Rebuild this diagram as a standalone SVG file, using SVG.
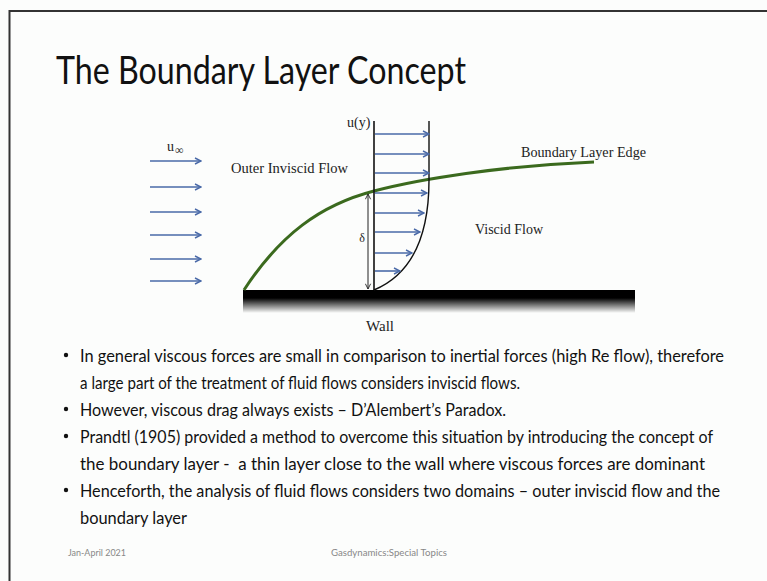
<svg xmlns="http://www.w3.org/2000/svg" width="767" height="581" viewBox="0 0 767 581">
<defs>
<marker id="bh" viewBox="0 0 8 8" refX="7" refY="4" markerWidth="8" markerHeight="8" markerUnits="userSpaceOnUse" orient="auto">
<path d="M1,1 L7,4 L1,7" fill="none" stroke="#4a6aa8" stroke-width="1.4"/>
</marker>
<marker id="kh" viewBox="0 0 8 8" refX="7" refY="4" markerWidth="7" markerHeight="7" markerUnits="userSpaceOnUse" orient="auto-start-reverse">
<path d="M1,1 L7,4 L1,7" fill="none" stroke="#222" stroke-width="1"/>
</marker>
<linearGradient id="wallfade" x1="0" y1="0" x2="0" y2="1">
<stop offset="0" stop-color="#000"/>
<stop offset="1" stop-color="#000" stop-opacity="0"/>
</linearGradient>
<style>
.serif{font-family:"Liberation Serif","Times New Roman",serif;fill:#222}
.sans{font-family:Lato,"Open Sans","Liberation Sans",sans-serif;fill:#111}
.blue{stroke:#4a6aa8;stroke-width:1.6;fill:none;marker-end:url(#bh)}
.foot{font-family:Lato,"Liberation Sans",sans-serif;font-size:9px;fill:#888}
</style>
</defs>
<rect width="767" height="581" fill="#fcfdfc"/>
<path d="M9.5,590 L9.5,11 L780,11" fill="none" stroke="#333" stroke-width="2"/>

<g id="title"><text class="sans" x="56" y="84" font-size="38" textLength="410" lengthAdjust="spacingAndGlyphs">The Boundary Layer Concept</text></g>

<g id="wall">
<rect x="243" y="290" width="392" height="8" fill="#000"/>
<rect x="243" y="298" width="392" height="15" fill="url(#wallfade)"/>
<text class="serif" x="366" y="331" font-size="14" textLength="28" lengthAdjust="spacingAndGlyphs">Wall</text>
</g>

<g id="boundary-edge">
<path d="M244,290 C280,235 320,205 374,191 C420,179 500,166 594,162" fill="none" stroke="#3b6a1e" stroke-width="3"/>
<text class="serif" x="521" y="157" font-size="14" textLength="125" lengthAdjust="spacingAndGlyphs">Boundary Layer Edge</text>
</g>

<g id="labels">
<text class="serif" x="231" y="173" font-size="14" textLength="117" lengthAdjust="spacingAndGlyphs">Outer Inviscid Flow</text>
<text class="serif" x="475" y="234" font-size="14" textLength="68" lengthAdjust="spacingAndGlyphs">Viscid Flow</text>
<text class="serif" x="347" y="127" font-size="14">u(y)</text>
<text class="serif" x="167" y="151" font-size="14">u</text>
<text class="serif" x="175" y="154" font-size="12">∞</text>
<text class="serif" x="362" y="242" font-size="12" text-anchor="middle">δ</text>
</g>

<g id="profile">
<line x1="374" y1="121" x2="374" y2="290" stroke="#111" stroke-width="1.6"/>
<path d="M429,121 L429,180 C429,240 410,275 374,290" fill="none" stroke="#111" stroke-width="1.4"/>
</g>

<g id="connectors">
<line class="blue" x1="150" y1="161" x2="201" y2="161"/>
<line class="blue" x1="150" y1="187" x2="201" y2="187"/>
<line class="blue" x1="150" y1="212" x2="201" y2="212"/>
<line class="blue" x1="150" y1="235" x2="201" y2="235"/>
<line class="blue" x1="150" y1="259" x2="201" y2="259"/>
<line class="blue" x1="150" y1="281" x2="201" y2="281"/>
<line class="blue" x1="375" y1="134" x2="429" y2="134"/>
<line class="blue" x1="375" y1="154" x2="429" y2="154"/>
<line class="blue" x1="375" y1="173" x2="429" y2="173"/>
<line class="blue" x1="375" y1="193" x2="427" y2="193"/>
<line class="blue" x1="375" y1="213" x2="424" y2="213"/>
<line class="blue" x1="375" y1="232" x2="420" y2="232"/>
<line class="blue" x1="375" y1="253" x2="412" y2="253"/>
<line class="blue" x1="375" y1="271" x2="400" y2="271"/>
<line x1="368" y1="194" x2="368" y2="289" stroke="#222" stroke-width="1" marker-start="url(#kh)" marker-end="url(#kh)"/>
</g>

<g id="bullets" class="sans" font-size="17">
<circle cx="66" cy="355" r="2.2" fill="#111"/>
<circle cx="66" cy="409" r="2.2" fill="#111"/>
<circle cx="66" cy="436" r="2.2" fill="#111"/>
<circle cx="66" cy="490" r="2.2" fill="#111"/>
<text class="sans" x="80" y="362" textLength="644" lengthAdjust="spacingAndGlyphs">In general viscous forces are small in comparison to inertial forces (high Re flow), therefore</text>
<text class="sans" x="80" y="389" textLength="440" lengthAdjust="spacingAndGlyphs">a large part of the treatment of fluid flows considers inviscid flows.</text>
<text class="sans" x="80" y="416" textLength="426" lengthAdjust="spacingAndGlyphs">However, viscous drag always exists – D’Alembert’s Paradox.</text>
<text class="sans" x="80" y="443" textLength="633" lengthAdjust="spacingAndGlyphs">Prandtl (1905) provided a method to overcome this situation by introducing the concept of</text>
<text class="sans" x="80" y="470" textLength="625" lengthAdjust="spacingAndGlyphs" xml:space="preserve">the boundary layer -  a thin layer close to the wall where viscous forces are dominant</text>
<text class="sans" x="80" y="497" textLength="640" lengthAdjust="spacingAndGlyphs">Henceforth, the analysis of fluid flows considers two domains – outer inviscid flow and the</text>
<text class="sans" x="80" y="524" textLength="107" lengthAdjust="spacingAndGlyphs">boundary layer</text>
</g>

<g id="footer">
<text class="foot" x="68" y="556" textLength="58" lengthAdjust="spacingAndGlyphs">Jan-April 2021</text>
<text class="foot" x="331" y="556" textLength="116" lengthAdjust="spacingAndGlyphs">Gasdynamics:Special Topics</text>
</g>
</svg>
